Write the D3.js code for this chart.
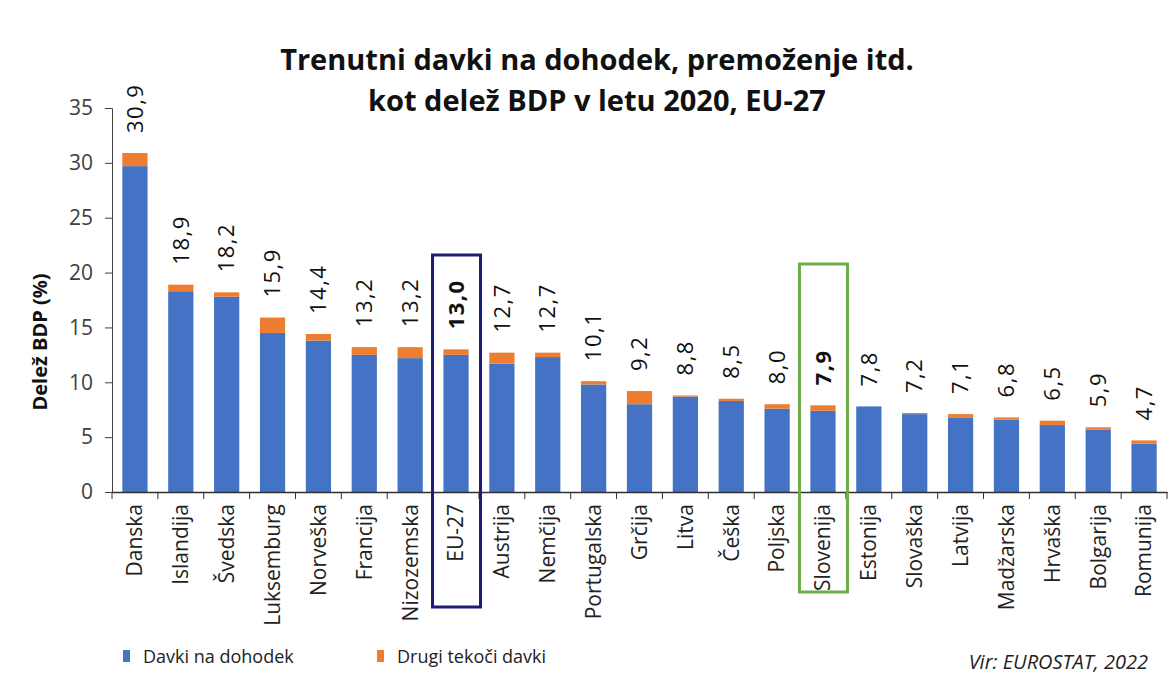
<!DOCTYPE html>
<html>
<head>
<meta charset="utf-8">
<script src="https://cdn.jsdelivr.net/npm/d3@7"></script>
<style>
  body { margin: 0; background: #fff; }
  text { font-family: "Open Sans", "Noto Sans", sans-serif; }
</style>
</head>
<body>
<script>
// countries, sorted as in the source chart
var countries = ["Danska", "Islandija", "Švedska", "Luksemburg", "Norveška", "Francija",
  "Nizozemska", "EU-27", "Austrija", "Nemčija", "Portugalska", "Grčija", "Litva", "Češka",
  "Poljska", "Slovenija", "Estonija", "Slovaška", "Latvija", "Madžarska", "Hrvaška",
  "Bolgarija", "Romunija"];

// total share of GDP (labels)
var totals = [30.9, 18.9, 18.2, 15.9, 14.4, 13.2, 13.2, 13.0, 12.7, 12.7, 10.1, 9.2, 8.8,
  8.5, 8.0, 7.9, 7.8, 7.2, 7.1, 6.8, 6.5, 5.9, 4.7];

// "Drugi tekoči davki" part (orange)
var other = [1.2, 0.6, 0.4, 1.4, 0.6, 0.7, 1.0, 0.5, 1.0, 0.4, 0.3, 1.2, 0.1, 0.2, 0.4,
  0.5, 0.0, 0.1, 0.3, 0.2, 0.4, 0.2, 0.3];

var yTicks = [0, 5, 10, 15, 20, 25, 30, 35];
var highlighted = { "EU-27": "#1c1c78", "Slovenija": "#70ad47" };

var width = 1174, height = 680;

var svg = d3.select("body").append("svg")
    .attr("width", width)
    .attr("height", height);

var x = d3.scaleBand()
    .domain(countries)
    .range([112, 1167])
    .paddingInner(0.45)
    .paddingOuter(0.225);

var y = d3.scaleLinear()
    .domain([0, 35])
    .range([492, 108]);

var data = countries.map(function(c, i) {
  return { name: c, total: totals[i], other: other[i], income: +(totals[i] - other[i]).toFixed(1) };
});

// title
svg.append("text")
    .attr("x", 597).attr("y", 70)
    .attr("text-anchor", "middle")
    .style("font-size", "29px").style("font-weight", "bold").style("fill", "#111")
    .text("Trenutni davki na dohodek, premoženje itd.");
svg.append("text")
    .attr("x", 597).attr("y", 111)
    .attr("text-anchor", "middle")
    .style("font-size", "29px").style("font-weight", "bold").style("fill", "#111")
    .text("kot delež BDP v letu 2020, EU-27");

// bars
var bar = svg.selectAll(".bar")
    .data(data)
  .enter().append("g")
    .attr("class", "bar");

bar.append("rect")
    .attr("x", function(d) { return x(d.name); })
    .attr("width", x.bandwidth())
    .attr("y", function(d) { return y(d.income); })
    .attr("height", function(d) { return y(0) - y(d.income); })
    .style("fill", "#4472c4");

bar.append("rect")
    .attr("x", function(d) { return x(d.name); })
    .attr("width", x.bandwidth())
    .attr("y", function(d) { return y(d.total); })
    .attr("height", function(d) { return y(d.income) - y(d.total); })
    .style("fill", "#ed7d31");

// value labels
bar.append("text")
    .attr("transform", function(d) {
      return "translate(" + (x(d.name) + x.bandwidth() / 2) + "," + (y(d.total) - 20) + ") rotate(-90)";
    })
    .attr("dy", "0.35em")
    .style("font-size", "22px")
    .style("letter-spacing", "1.5px")
    .style("fill", "#111")
    .style("font-weight", function(d) { return highlighted[d.name] ? "bold" : "normal"; })
    .text(function(d) { return d.total.toFixed(1).replace(".", ","); });

// y axis
var yAxis = d3.axisLeft(y).tickValues(yTicks).tickSize(7).tickPadding(12);
var gy = svg.append("g")
    .attr("transform", "translate(112,0)")
    .call(yAxis);
gy.select(".domain").attr("stroke", "#404040");
gy.selectAll(".tick line").attr("stroke", "#404040");
gy.selectAll(".tick text")
    .style("font-size", "21px").style("fill", "#404040")
    .style("font-family", "'Open Sans', sans-serif");

svg.append("text")
    .attr("transform", "translate(40,342) rotate(-90)")
    .attr("text-anchor", "middle")
    .attr("dy", "0.35em")
    .style("font-size", "20px").style("font-weight", "bold").style("fill", "#111")
    .text("Delež BDP (%)");

// x axis
var xAxis = d3.axisBottom(x).tickSize(0).tickPadding(0);
var gx = svg.append("g")
    .attr("transform", "translate(0,492)")
    .call(xAxis);
gx.select(".domain").attr("stroke", "#303030").attr("stroke-width", 1.5);
gx.selectAll(".tick text")
    .attr("transform", "translate(0,12) rotate(-90)")
    .attr("text-anchor", "end")
    .attr("x", 0).attr("y", 0)
    .attr("dy", "0.35em")
    .style("font-size", "21px").style("fill", "#222")
    .style("font-family", "'Open Sans', sans-serif");

// band boundary ticks
var bounds = countries.map(function(c) { return x(c) - x.step() * x.paddingInner() / 2; });
bounds.push(x.range()[1]);
gx.selectAll(".btick")
    .data(bounds)
  .enter().append("line")
    .attr("x1", function(d) { return d; })
    .attr("x2", function(d) { return d; })
    .attr("y1", 0).attr("y2", 7)
    .attr("stroke", "#303030");

// highlight frames
Object.keys(highlighted).forEach(function(name) {
  var cx = x(name) + x.bandwidth() / 2;
  var top = name === "EU-27" ? 255 : 264;
  var bottom = name === "EU-27" ? 607 : 592;
  svg.append("rect")
      .attr("x", cx - 23.5).attr("y", top)
      .attr("width", 48).attr("height", bottom - top)
      .style("fill", "none")
      .style("stroke", highlighted[name])
      .style("stroke-width", 3);
});

// legend
var legend = [
  { label: "Davki na dohodek", color: "#4472c4", x: 123 },
  { label: "Drugi tekoči davki", color: "#ed7d31", x: 377 }
];
var lg = svg.selectAll(".legend")
    .data(legend)
  .enter().append("g")
    .attr("class", "legend")
    .attr("transform", function(d) { return "translate(" + d.x + ",650)"; });
lg.append("rect")
    .attr("width", 7).attr("height", 12)
    .style("fill", function(d) { return d.color; });
lg.append("text")
    .attr("x", 20).attr("y", 13)
    .style("font-size", "18px").style("fill", "#222")
    .text(function(d) { return d.label; });

svg.append("text")
    .attr("x", 1148).attr("y", 669)
    .attr("text-anchor", "end")
    .style("font-size", "20px").style("font-style", "italic").style("fill", "#222")
    .text("Vir: EUROSTAT, 2022");
</script>
</body>
</html>
